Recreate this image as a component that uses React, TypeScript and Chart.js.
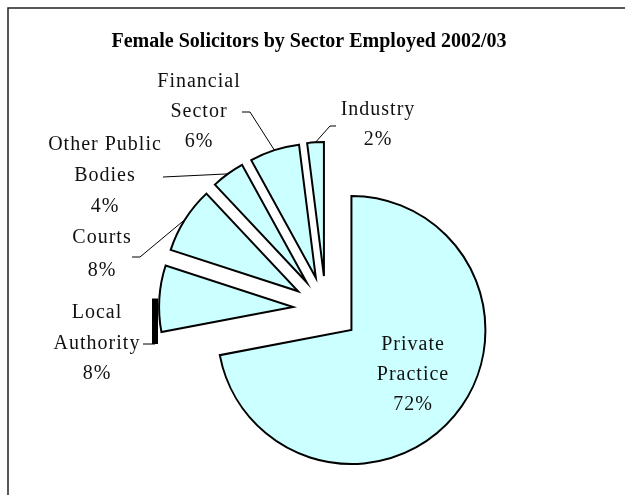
import React, { useEffect, useRef } from 'react';
import { Chart, registerables, ArcElement } from 'chart.js';

Chart.register(...registerables);

// ---- data ----
const TITLE = 'Female Solicitors by Sector Employed 2002/03';
const categories = ['Private Practice', 'Local Authority', 'Courts', 'Other Public Bodies', 'Financial Sector', 'Industry'];
const labelLines = [['Private', 'Practice'], ['Local', 'Authority'], ['Courts'], ['Other Public', 'Bodies'], ['Financial', 'Sector'], ['Industry']];
const shares = [72, 8, 8, 4, 6, 2];

// ---- style / layout ----
const SLICE_FILL = '#CCFFFF';
const EXPLODE = 33;
const RADIUS = 134;
const LABEL_FONT = '20px "Liberation Serif", "Times New Roman", serif';
const TITLE_FONT = 'bold 20px "Liberation Serif", "Times New Roman", serif';

// label anchors relative to the pie centre (first text line centre), leader elbows
const labelLayout: any[] = [
  { dx: 87, dy: 36, lh: 30, leader: null },
  { dx: -229, dy: 4, lh: 30.5, leader: [[-183, 35], [-171, 35]], thick: true },
  { dx: -224, dy: -71, lh: 33, leader: [[-194, -52], [-186, -52]] },
  { dx: -221, dy: -164, lh: 31, leader: [[-163, -132]] },
  { dx: -127, dy: -227, lh: 30, leader: [[-84, -197], [-76, -197]] },
  { dx: 52, dy: -199, lh: 30, leader: [[10, -183], [4, -183]] },
];

const explodePlugin = {
  id: 'explodeSlices',
  beforeDatasetsDraw(chart: any) {
    const meta = chart.getDatasetMeta(0);
    meta.data.forEach((el: any) => {
      if (el._explodedPatch) return;
      el._explodedPatch = true;
      el.draw = function (ctx: CanvasRenderingContext2D) {
        const mid = (this.startAngle + this.endAngle) / 2;
        ctx.save();
        ctx.translate(Math.cos(mid) * EXPLODE, Math.sin(mid) * EXPLODE);
        (ArcElement.prototype as any).draw.call(this, ctx);
        ctx.restore();
      };
    });
  },
};

const decorPlugin = {
  id: 'decor',
  afterDraw(chart: any) {
    const ctx: CanvasRenderingContext2D = chart.ctx;
    const meta = chart.getDatasetMeta(0);
    const total = shares.reduce((a, b) => a + b, 0);
    ctx.save();
    // frame
    ctx.strokeStyle = '#222';
    ctx.lineWidth = 1.5;
    ctx.beginPath();
    ctx.moveTo(8, chart.height + 10);
    ctx.lineTo(8, 8);
    ctx.lineTo(chart.width + 10, 8);
    ctx.stroke();
    // title
    ctx.fillStyle = '#000';
    ctx.font = TITLE_FONT;
    ctx.textAlign = 'center';
    ctx.textBaseline = 'middle';
    ctx.fillText(TITLE, 309, 42);

    meta.data.forEach((el: any, i: number) => {
      const cx = el.x;
      const cy = el.y;
      const mid = (el.startAngle + el.endAngle) / 2;
      const lay = labelLayout[i];
      // leader line
      if (lay.leader) {
        const pts = lay.leader.map((p: number[]) => [cx + p[0], cy + p[1]]);
        const ax = cx + Math.cos(mid) * (EXPLODE + el.outerRadius);
        const ay = cy + Math.sin(mid) * (EXPLODE + el.outerRadius);
        ctx.strokeStyle = '#000';
        ctx.lineWidth = 1;
        ctx.beginPath();
        ctx.moveTo(pts[0][0], pts[0][1]);
        for (let k = 1; k < pts.length; k++) ctx.lineTo(pts[k][0], pts[k][1]);
        if (!lay.thick) ctx.lineTo(ax, ay);
        ctx.stroke();
        if (lay.thick) {
          const last = pts[pts.length - 1];
          ctx.lineWidth = 6;
          ctx.lineCap = 'butt';
          ctx.beginPath();
          ctx.moveTo(last[0], last[1]);
          ctx.lineTo(last[0], ay);
          ctx.stroke();
        }
      }
      // text
      const lines = [...labelLines[i], Math.round((shares[i] / total) * 100) + '%'];
      ctx.fillStyle = '#111';
      ctx.font = LABEL_FONT;
      (ctx as any).letterSpacing = '1px';
      ctx.textAlign = 'center';
      ctx.textBaseline = 'middle';
      lines.forEach((t, k) => {
        ctx.fillText(t, cx + lay.dx, cy + lay.dy + k * lay.lh);
      });
      (ctx as any).letterSpacing = '0px';
    });
    ctx.restore();
  },
};

export default function App() {
  const ref = useRef<HTMLCanvasElement | null>(null);
  useEffect(() => {
    if (!ref.current) return;
    const chart = new Chart(ref.current, {
      type: 'pie',
      data: {
        labels: categories,
        datasets: [
          {
            data: shares,
            backgroundColor: SLICE_FILL,
            borderColor: '#000',
            borderWidth: 2,
            borderJoinStyle: 'miter',
            radius: RADIUS,
          } as any,
        ],
      },
      options: {
        animation: false,
        responsive: true,
        maintainAspectRatio: false,
        events: [],
        layout: { padding: { left: 27, right: 0, top: 123, bottom: 0 } },
        plugins: {
          legend: { display: false },
          tooltip: { enabled: false },
          title: { display: false },
        },
      } as any,
      plugins: [explodePlugin, decorPlugin],
    });
    return () => chart.destroy();
  }, []);
  return (
    <div style={{ position: 'fixed', left: 0, top: 0, width: 625, height: 495, background: '#fff' }}>
      <canvas ref={ref} />
    </div>
  );
}
